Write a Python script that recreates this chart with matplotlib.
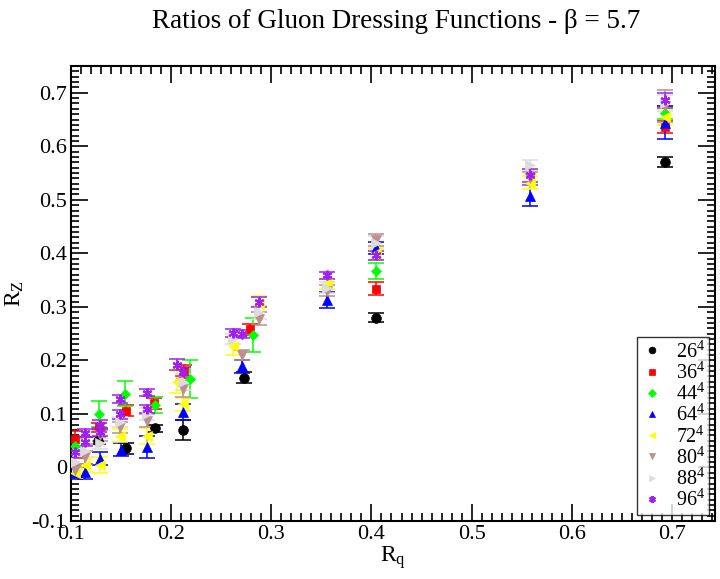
import matplotlib
matplotlib.use("Agg")
import matplotlib.pyplot as plt
from matplotlib.ticker import MultipleLocator, FuncFormatter

plt.rcParams['font.family'] = ['Liberation Serif', 'DejaVu Serif']
plt.rcParams['mathtext.fontset'] = 'custom'
plt.rcParams['mathtext.rm'] = 'Liberation Serif'
plt.rcParams['mathtext.it'] = 'Liberation Serif:italic'
plt.rcParams['axes.unicode_minus'] = False

# lattice sizes
labels = ["26", "36", "44", "64", "72", "80", "88", "96"]

# 26^4
x26 = [0.127, 0.155, 0.184, 0.212, 0.273, 0.405, 0.693]
y26 = [0.050, 0.036, 0.073, 0.070, 0.168, 0.280, 0.571]
e26 = [0.006, 0.010, 0.007, 0.018, 0.010, 0.008, 0.009]

# 36^4
x36 = [0.104, 0.128, 0.155, 0.183, 0.213, 0.279, 0.405, 0.693]
y36 = [0.053, 0.075, 0.106, 0.120, 0.180, 0.258, 0.334, 0.636]
e36 = [0.015, 0.008, 0.010, 0.010, 0.012, 0.010, 0.012, 0.012]

# 44^4
x44 = [0.104, 0.128, 0.154, 0.184, 0.219, 0.282, 0.405, 0.693]
y44 = [0.040, 0.100, 0.138, 0.117, 0.165, 0.247, 0.367, 0.663]
e44 = [0.015, 0.025, 0.023, 0.015, 0.036, 0.032, 0.015, 0.012]

# 64^4
x64 = [0.104, 0.114, 0.129, 0.150, 0.176, 0.212, 0.271, 0.356, 0.405, 0.558, 0.693]
y64 = [-0.010, -0.008, 0.016, 0.033, 0.038, 0.103, 0.189, 0.312, 0.410, 0.508, 0.644]
e64 = [0.012, 0.014, 0.012, 0.012, 0.020, 0.015, 0.012, 0.015, 0.012, 0.020, 0.031]

# 72^4
x72 = [0.104, 0.114, 0.129, 0.149, 0.176, 0.206, 0.212, 0.262, 0.288, 0.356, 0.405, 0.558, 0.693]
y72 = [-0.010, 0.004, 0.005, 0.059, 0.059, 0.160, 0.118, 0.226, 0.305, 0.343, 0.400, 0.532, 0.655]
e72 = [0.010, 0.012, 0.015, 0.012, 0.015, 0.020, 0.012, 0.015, 0.015, 0.010, 0.012, 0.012, 0.015]

# 80^4
x80 = [0.104, 0.114, 0.129, 0.149, 0.176, 0.212, 0.271, 0.288, 0.356, 0.405, 0.558, 0.693]
y80 = [-0.005, 0.019, 0.060, 0.075, 0.087, 0.146, 0.210, 0.278, 0.330, 0.425, 0.540, 0.675]
e80 = [0.012, 0.012, 0.010, 0.010, 0.012, 0.015, 0.010, 0.012, 0.010, 0.012, 0.012, 0.030]

# 88^4
x88 = [0.104, 0.114, 0.129, 0.149, 0.176, 0.212, 0.262, 0.288, 0.356, 0.405, 0.558, 0.693]
y88 = [0.010, 0.031, 0.045, 0.085, 0.100, 0.160, 0.240, 0.290, 0.336, 0.420, 0.565, 0.680]
e88 = [0.012, 0.012, 0.010, 0.010, 0.012, 0.015, 0.010, 0.012, 0.010, 0.012, 0.010, 0.015]

# 96^4
x96 = [0.104, 0.114, 0.114, 0.129, 0.129, 0.149, 0.149, 0.176, 0.176, 0.206,
       0.212, 0.262, 0.271, 0.288, 0.356, 0.405, 0.558, 0.693]
y96 = [0.028, 0.064, 0.048, 0.080, 0.066, 0.128, 0.099, 0.140, 0.109, 0.192,
       0.179, 0.251, 0.249, 0.309, 0.359, 0.396, 0.546, 0.686]
e96 = [0.010, 0.008, 0.008, 0.008, 0.008, 0.008, 0.008, 0.006, 0.008, 0.010,
       0.008, 0.008, 0.008, 0.010, 0.006, 0.008, 0.012, 0.014]

series = [(x26, y26, e26), (x36, y36, e36), (x44, y44, e44), (x64, y64, e64),
          (x72, y72, e72), (x80, y80, e80), (x88, y88, e88), (x96, y96, e96)]
colors = ['black', '#ff0000', '#00ff00', '#0000ff', '#ffff00', '#bc8f8f', '#dcdcdc', '#a020f0']
markers = ['o', 's', 'D', '^', '<', 'v', '>', (6, 2, 0)]
msizes = [7, 6, 5.5, 7, 7, 7, 7, 7]

fig = plt.figure(figsize=(7.2, 5.79), dpi=100)
ax = fig.add_axes([71 / 720, 1 - 521 / 579, 644 / 720, 455 / 579])

for (xs, ys, es), c, m, ms, lab in zip(series, colors, markers, msizes, labels):
    ax.errorbar(xs, ys, yerr=es, fmt='none', ecolor=c, elinewidth=1.3,
                capsize=6, capthick=1.3, alpha=0.85, zorder=2)
    ax.plot(xs, ys, linestyle='none', marker=m, color=c, markersize=ms,
            markeredgecolor=c, markeredgewidth=1.5 if m == markers[-1] else 0.5,
            label=lab + "$^4$", zorder=3)

ax.set_xlim(0.1, 0.743)
ax.set_ylim(-0.1, 0.75)
ax.xaxis.set_major_locator(MultipleLocator(0.1))
ax.xaxis.set_minor_locator(MultipleLocator(0.01))
ax.yaxis.set_major_locator(MultipleLocator(0.1))
ax.yaxis.set_minor_locator(MultipleLocator(0.01))
fmt = FuncFormatter(lambda v, p: "0" if abs(v) < 1e-9 else ("%.1f" % v))
ax.xaxis.set_major_formatter(fmt)
ax.yaxis.set_major_formatter(fmt)
ax.tick_params(which='both', direction='in', top=True, right=True, labelsize=16, width=1.2)
ax.tick_params(which='major', length=12, pad=3)
ax.tick_params(which='minor', length=6)
for s in ax.spines.values():
    s.set_linewidth(1.5)

ax.set_xlabel("R$_\\mathrm{q}$", fontsize=17, labelpad=0)
ax.set_ylabel("R$_\\mathrm{Z}$", fontsize=17, labelpad=4)
fig.text(396 / 720, 1 - 22 / 579, "Ratios of Gluon Dressing Functions - β = 5.7",
         fontsize=19.5, ha='center', va='center')

leg = ax.legend(loc='lower right', fontsize=14.5, frameon=True, fancybox=False,
                edgecolor='black', borderpad=0.2, labelspacing=0.0,
                handlelength=1.0, handletextpad=0.7, borderaxespad=0.3,
                markerscale=0.7)
leg.get_frame().set_linewidth(1.0)

fig.savefig("out.png", dpi=100)
